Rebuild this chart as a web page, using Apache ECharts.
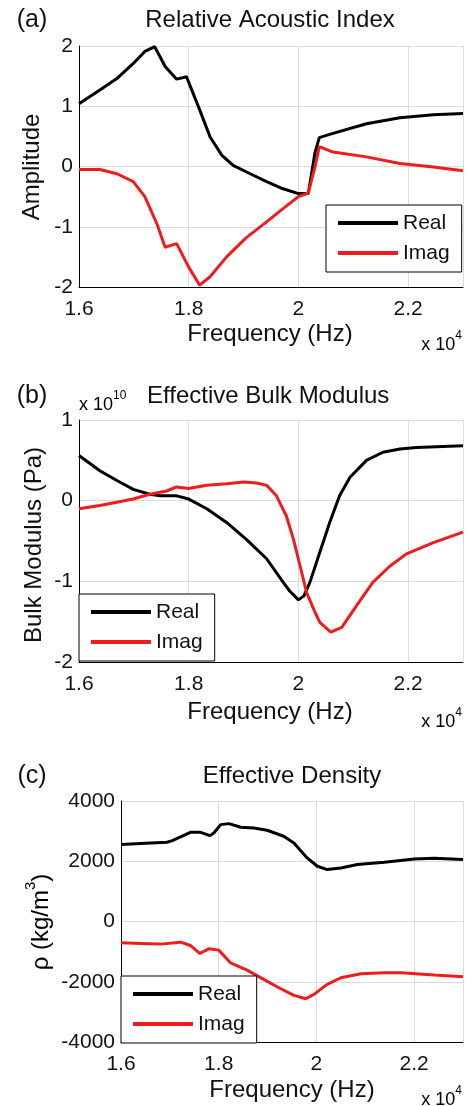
<!DOCTYPE html>
<html><head><meta charset="utf-8">
<script src="https://cdn.jsdelivr.net/npm/echarts@6/dist/echarts.min.js"></script>
<style>html,body{margin:0;padding:0;background:#fff}#c{width:467px;height:1106px}</style>
</head><body><div id="c"></div>
<script>
// Frequencies in units of 10^4 Hz
const xTicks = [1.6, 1.8, 2, 2.2];

// (a) Relative Acoustic Index
const freqA_re = [1.6,1.638,1.669,1.699,1.72,1.738,1.757,1.778,1.796,1.82,1.839,1.86,1.881,1.912,1.942,1.972,2.0,2.018,2.03,2.038,2.063,2.124,2.185,2.246,2.3];
const realA    = [1.04,1.27,1.46,1.71,1.91,1.99,1.66,1.45,1.49,0.94,0.49,0.19,0.02,-0.12,-0.25,-0.37,-0.45,-0.45,0.22,0.48,0.55,0.71,0.81,0.86,0.88];
const freqA_im = [1.6,1.638,1.669,1.699,1.72,1.742,1.757,1.778,1.8,1.82,1.839,1.869,1.905,1.942,1.972,2.0,2.018,2.03,2.038,2.063,2.124,2.185,2.246,2.3];
const imagA    = [-0.05,-0.05,-0.12,-0.25,-0.5,-0.95,-1.34,-1.28,-1.67,-1.97,-1.83,-1.5,-1.18,-0.92,-0.7,-0.5,-0.44,-0.01,0.33,0.24,0.16,0.05,-0.01,-0.07];

// (b) Effective Bulk Modulus (x 10^10 Pa)
const freqB_re = [1.6,1.638,1.669,1.699,1.729,1.748,1.778,1.8,1.833,1.869,1.905,1.942,1.972,1.984,2.0,2.01,2.021,2.039,2.057,2.075,2.094,2.124,2.154,2.185,2.215,2.3];
const realB    = [0.56,0.37,0.25,0.14,0.08,0.06,0.06,0.02,-0.1,-0.27,-0.48,-0.72,-1.01,-1.12,-1.23,-1.18,-1.01,-0.64,-0.27,0.06,0.29,0.5,0.6,0.64,0.66,0.68];
const freqB_im = [1.6,1.638,1.669,1.699,1.729,1.76,1.778,1.8,1.833,1.869,1.9,1.924,1.942,1.96,1.978,1.991,2.003,2.015,2.03,2.039,2.059,2.079,2.106,2.136,2.167,2.197,2.246,2.3];
const imagB    = [-0.1,-0.06,-0.02,0.02,0.08,0.12,0.17,0.15,0.19,0.21,0.23,0.22,0.19,0.06,-0.19,-0.48,-0.81,-1.14,-1.38,-1.51,-1.63,-1.57,-1.3,-1.01,-0.81,-0.66,-0.52,-0.39];

// (c) Effective Density (kg/m^3)
const freqC_re = [1.6,1.64,1.694,1.705,1.722,1.742,1.763,1.782,1.79,1.804,1.821,1.845,1.872,1.899,1.933,1.954,1.981,2.002,2.022,2.05,2.084,2.139,2.2,2.241,2.3];
const realC    = [2553,2586,2630,2685,2807,2961,2961,2851,2940,3216,3249,3127,3105,3028,2829,2608,2111,1834,1724,1779,1890,1967,2077,2100,2055];
const freqC_im = [1.6,1.64,1.681,1.722,1.742,1.761,1.78,1.8,1.824,1.858,1.892,1.927,1.954,1.978,1.995,2.022,2.05,2.091,2.139,2.173,2.241,2.3];
const imagC    = [-707,-729,-751,-685,-796,-1061,-906,-950,-1370,-1613,-1923,-2232,-2453,-2564,-2420,-2088,-1867,-1735,-1702,-1702,-1779,-1834];

const zip = (xs, ys) => xs.map((x, i) => [x, ys[i]]);
const FONT = 'Liberation Sans, Arial, sans-serif';
const RED = '#f01c1c';
const INK = '#111';

const grids = [
  {left: 79, top: 46, width: 384, height: 241},
  {left: 79, top: 420, width: 384, height: 242},
  {left: 121, top: 801, width: 342, height: 241}
];
const yRanges = [[-2, 2, 1], [-2, 1, 1], [-4000, 4000, 2000]];

const xAxes = grids.map((g, i) => ({
  type: 'value', gridIndex: i, min: 1.6, max: 2.3, interval: 0.2,
  axisLine: {show: true, onZero: false, lineStyle: {color: '#000', width: 1}},
  axisTick: {show: false},
  splitLine: {show: true, lineStyle: {color: '#dcdcdc', width: 1}},
  axisLabel: {color: INK, fontSize: 21, fontFamily: FONT, margin: 12, showMaxLabel: false,
    formatter: v => { const r = Math.round(v * 10) / 10; return xTicks.some(t => Math.abs(t - r) < 1e-6) ? String(r) : ''; }}
}));
const yAxes = yRanges.map((r, i) => ({
  type: 'value', gridIndex: i, min: r[0], max: r[1], interval: r[2],
  axisLine: {show: true, onZero: false, lineStyle: {color: '#000', width: 1}},
  axisTick: {show: false},
  splitLine: {show: true, lineStyle: {color: '#dcdcdc', width: 1}},
  axisLabel: {color: INK, fontSize: 21, fontFamily: FONT, margin: 6, formatter: v => String(v)}
}));

function line(name, xi, xs, ys, color) {
  return {type: 'line', name: name, xAxisIndex: xi, yAxisIndex: xi, data: zip(xs, ys),
    symbol: 'none', lineStyle: {color: color, width: 3}, itemStyle: {color: color},
    animation: false, z: 3};
}

function legend(i, left, top) {
  return {
    show: true, orient: 'vertical', left: left, top: top,
    data: ['Real' + i, 'Imag' + i],
    icon: 'rect', itemWidth: 60, itemHeight: 4, itemGap: 6,
    padding: [6, 12, 7, 12],
    backgroundColor: '#fff', borderColor: '#000', borderWidth: 1, borderRadius: 0,
    textStyle: {fontSize: 21, fontFamily: FONT, color: INK, lineHeight: 24},
    formatter: n => n.replace(/\d$/, ''),
    selectedMode: false, z: 10
  };
}

function txt(x, y, text, size, align) {
  return {type: 'text', x: x, y: y, z: 20,
    style: {text: text, fontSize: size, fontFamily: FONT, fill: INK, align: align || 'center', verticalAlign: 'middle'}};
}
function vtxt(x, y, text, size) {
  return {type: 'text', x: x, y: y, rotation: Math.PI / 2, z: 20,
    style: {text: text, fontSize: size, fontFamily: FONT, fill: INK, align: 'center', verticalAlign: 'middle'}};
}

const supRich = {
  a: {fontSize: 18, fontFamily: FONT, color: INK, verticalAlign: 'bottom', lineHeight: 24},
  s: {fontSize: 12, fontFamily: FONT, color: INK, verticalAlign: 'top', lineHeight: 24, padding: [0, 0, 10, 0]}
};
function expo(x, y, e, align) {
  return {type: 'text', x: x, y: y, z: 20,
    style: {text: '{a|x 10}{s|' + e + '}', rich: supRich, align: align, verticalAlign: 'middle', fontFamily: FONT}};
}

const graphic = [
  txt(32, 20, '(a)', 25),
  txt(270, 20, 'Relative Acoustic Index', 24),
  vtxt(32, 167, 'Amplitude', 24),
  txt(270, 334, 'Frequency (Hz)', 24),
  expo(462, 342, '4', 'right'),

  txt(32, 396, '(b)', 25),
  expo(79, 402, '10', 'left'),
  txt(147, 396, 'Effective Bulk Modulus', 24, 'left'),
  vtxt(34, 545, 'Bulk Modulus (Pa)', 24),
  txt(270, 712, 'Frequency (Hz)', 24),
  expo(462, 719, '4', 'right'),

  txt(32, 776, '(c)', 25),
  txt(292, 776, 'Effective Density', 24),
  {type: 'text', x: 38, y: 922, rotation: Math.PI / 2, z: 20, style: {text: '{b|ρ (kg/m}{t|3}{b|)}', rich: {
    b: {fontSize: 24, fontFamily: FONT, color: INK, verticalAlign: 'bottom', lineHeight: 30},
    t: {fontSize: 15, fontFamily: FONT, color: INK, verticalAlign: 'top', lineHeight: 30, padding: [0, 0, 12, 0]}
  }, align: 'center', verticalAlign: 'middle', fontFamily: FONT}},
  txt(292, 1090, 'Frequency (Hz)', 24),
  expo(462, 1097, '4', 'right')
];

const chart = echarts.init(document.getElementById('c'), null, {renderer: 'canvas'});
chart.setOption({
  backgroundColor: '#fff',
  animation: false,
  grid: grids.map(g => Object.assign({containLabel: false}, g)),
  xAxis: xAxes,
  yAxis: yAxes,
  legend: [legend(0, 326, 205), legend(1, 79, 594), legend(2, 121, 976)],
  series: [
    line('Real0', 0, freqA_re, realA, '#000'),
    line('Imag0', 0, freqA_im, imagA, RED),
    line('Real1', 1, freqB_re, realB, '#000'),
    line('Imag1', 1, freqB_im, imagB, RED),
    line('Real2', 2, freqC_re, realC, '#000'),
    line('Imag2', 2, freqC_im, imagC, RED)
  ],
  graphic: graphic
});
</script></body></html>
